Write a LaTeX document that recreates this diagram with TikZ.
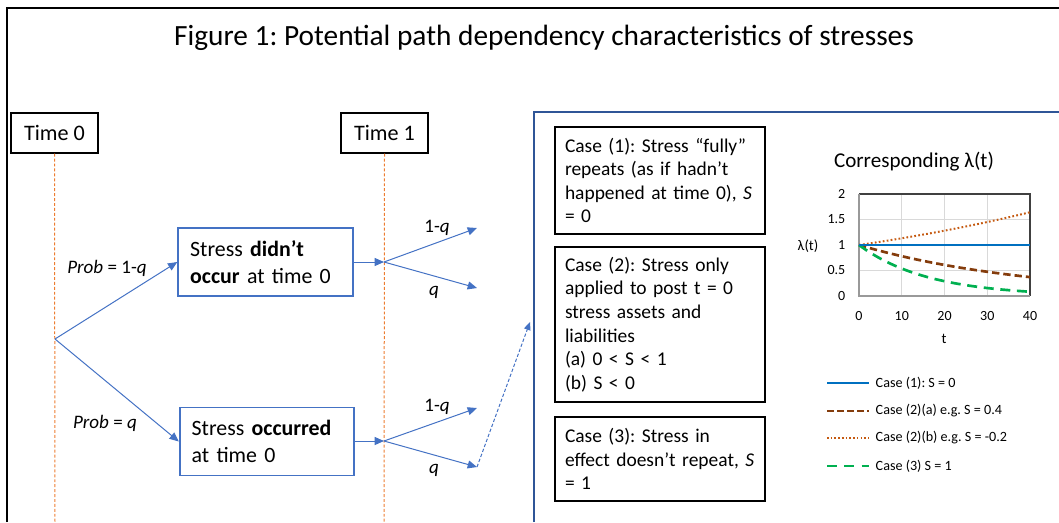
\documentclass[tikz,border=0pt]{standalone}
\usepackage{fontspec}
\setmainfont{Carlito}
\usetikzlibrary{arrows.meta}
\definecolor{boxblue}{HTML}{4472C4}
\definecolor{frameblue}{HTML}{2F5597}
\definecolor{orng}{HTML}{ED7D31}
\definecolor{cone}{HTML}{0070C0}
\definecolor{ctwoa}{HTML}{843C0C}
\definecolor{ctwob}{HTML}{C55A11}
\definecolor{cthree}{HTML}{00B050}
\definecolor{gridgray}{HTML}{D9D9D9}
\tikzset{
  timebox/.style={draw=black, line width=1pt, minimum width=65.25pt, minimum height=30pt, inner sep=0pt, font=\fontsize{16.6}{20}\selectfont},
  stressbox/.style={draw=boxblue, line width=1.3pt, align=left, text width=113pt, inner xsep=9pt, minimum height=51pt, font=\fontsize{16.4}{20.8}\selectfont},
  casebox/.style={draw=black, line width=1pt, align=left, text width=142.5pt, inner xsep=7.5pt, minimum width=157.5pt, font=\frenchspacing\fontsize{14.6}{17.7}\selectfont},
  arr/.style={draw=boxblue, line width=0.75pt, -{Triangle[length=7pt,width=6pt]}},
  timeline/.style={draw=orng, line width=0.75pt, dash pattern=on 2.2pt off 1.5pt},
  problabel/.style={font=\fontsize{14.3}{17}\selectfont},
  ticklabel/.style={font=\fontsize{10.5}{12}\selectfont},
  legendlabel/.style={font=\frenchspacing\fontsize{10.6}{13}\selectfont, anchor=west},
}
\begin{document}
\frenchspacing
\begin{tikzpicture}[x=0.75pt,y=-0.75pt]
\useasboundingbox (0,0) rectangle (1059,522);
% outer frame
\draw[black, line width=1.5pt] (7,522) -- (7,8) -- (1059,8);
\node[anchor=base, font=\frenchspacing\fontsize{22}{26}\selectfont] (title) at (544,45) {Figure 1: Potential path dependency characteristics of stresses};
% right panel frame
\draw[frameblue, line width=1pt] (534,522) -- (534,112) -- (1059,112);

% time boxes
\node[timebox] (t0) at (54.5,133) {Time 0};
\node[timebox] (t1) at (384.5,133) {Time 1};
\coordinate (t0end) at (55,522);
\coordinate (t1end) at (384,522);
\draw[timeline] (t0.south) -- (t0end);
\draw[timeline] (t1.south) -- (t1end);

% tree
\coordinate (root) at (55,339);
\node[stressbox] (b1) at (265.5,262) {Stress \textbf{didn’t}\\\textbf{occur} at time 0};
\node[stressbox] (b2) at (267,441.5) {Stress \textbf{occurred}\\at time 0};
\draw[arr] (root) -- (b1.west);
\draw[arr] (root) -- (b2.west);
\node[problabel] (p1) at (107,268) {\textit{Prob} = 1-\textit{q}};
\node[problabel] (p2) at (105,423) {\textit{Prob} = \textit{q}};

\coordinate (j1) at (384,262);
\coordinate (j2) at (384,441);
\coordinate (e1a) at (477,228);
\coordinate (e1b) at (477,288);
\coordinate (e2a) at (477,408);
\coordinate (e2b) at (477,467);
\draw[arr] (b1.east) -- (j1);
\draw[arr] (b2.east |- j2) -- (j2);
\draw[arr] (j1) -- (e1a);
\draw[arr] (j1) -- (e1b);
\draw[arr] (j2) -- (e2a);
\draw[arr] (j2) -- (e2b);
\node[problabel] (l1a) at (437,228) {1-\textit{q}};
\node[problabel] (l1b) at (434,292) {\textit{q}};
\node[problabel] (l2a) at (437,407) {1-\textit{q}};
\node[problabel] (l2b) at (434,470) {\textit{q}};
\coordinate (dend) at (530,322);
\draw[boxblue, line width=0.75pt, dash pattern=on 2.5pt off 1.5pt, -{Triangle[length=6pt,width=5pt]}] (e2b) -- (dend);

% case boxes
\node[casebox, minimum height=80.25pt] (c1) at (660,180.5) {Case (1): Stress “fully”\\repeats (as if hadn’t\\happened at time 0), \textit{S}\\= 0};
\node[casebox, minimum height=116.25pt] (c2) at (660,324.5) {Case (2): Stress only\\applied to post t = 0\\stress assets and\\liabilities\\(a) 0 < S < 1\\(b) S < 0};
\node[casebox, minimum height=63pt] (c3) at (660,459) {Case (3): Stress in\\effect doesn’t repeat, \textit{S}\\= 1};

% chart
\node[font=\fontsize{15.8}{19}\selectfont] (ctitle) at (914,162) {Corresponding λ(t)};
\foreach \g in {10,20,30} \draw[gridgray, line width=0.9pt] ({859+4.275*\g},194) -- ({859+4.275*\g},296);
\foreach \g in {0.5,1,1.5} \draw[gridgray, line width=0.9pt] (859,{296-51*\g}) -- (1030,{296-51*\g});
\draw[black!75, line width=1.1pt] (859,194) -- (1030,194) -- (1030,296);
\draw[black!40, line width=1.5pt] (859,194) -- (859,296) -- (1030,296);
\foreach \v/\lab in {0/0,0.5/0.5,1/1,1.5/1.5,2/2} \node[ticklabel, anchor=east] at (850,{296-51*\v}) {\lab};
\foreach \v in {0,10,20,30,40} \node[ticklabel] at ({859+4.275*\v},316) {\v};
\node[ticklabel, font=\fontsize{11}{13}\selectfont] (taxis) at (944,339) {t};
\node[ticklabel, font=\fontsize{11}{13}\selectfont] (laxis) at (808,246) {λ(t)};
% curves
\draw[ctwob, line width=1.5pt, dash pattern=on 1.3pt off 1.7pt] plot[domain=0:40, samples=41, smooth] ({859+4.275*\x}, {296-51*(0.94^(-0.2*\x))});
\draw[ctwoa, line width=2pt, dash pattern=on 5.5pt off 3pt] plot[domain=0:40, samples=41, smooth] ({859+4.275*\x}, {296-51*(0.94^(0.4*\x))});
\draw[cthree, line width=2pt, dash pattern=on 7.5pt off 5pt] plot[domain=0:40, samples=41, smooth] ({859+4.275*\x}, {296-51*(0.94^(\x))});
\draw[cone, line width=1.9pt] (859,245) -- (1030,245);

% legend
\coordinate (g1a) at (827,383); \coordinate (g1b) at (869,383);
\coordinate (g2a) at (827,411); \coordinate (g2b) at (869,411);
\coordinate (g3a) at (827,438); \coordinate (g3b) at (869,438);
\coordinate (g4a) at (827,466); \coordinate (g4b) at (869,466);
\draw[cone, line width=1.9pt] (g1a) -- (g1b);
\draw[ctwoa, line width=2pt, dash pattern=on 5pt off 2.5pt] (g2a) -- (g2b);
\draw[ctwob, line width=1.3pt, dash pattern=on 1.2pt off 1.6pt] (g3a) -- (g3b);
\draw[cthree, line width=2pt, dash pattern=on 7.5pt off 5.5pt] (g4a) -- (g4b);
\node[legendlabel] (lg1) at (871,383) {Case (1): S = 0};
\node[legendlabel] (lg2) at (871,411) {Case (2)(a) e.g. S = 0.4};
\node[legendlabel] (lg3) at (871,438) {Case (2)(b) e.g. S = -0.2};
\node[legendlabel] (lg4) at (871,466) {Case (3) S = 1};
\end{tikzpicture}
\end{document}
